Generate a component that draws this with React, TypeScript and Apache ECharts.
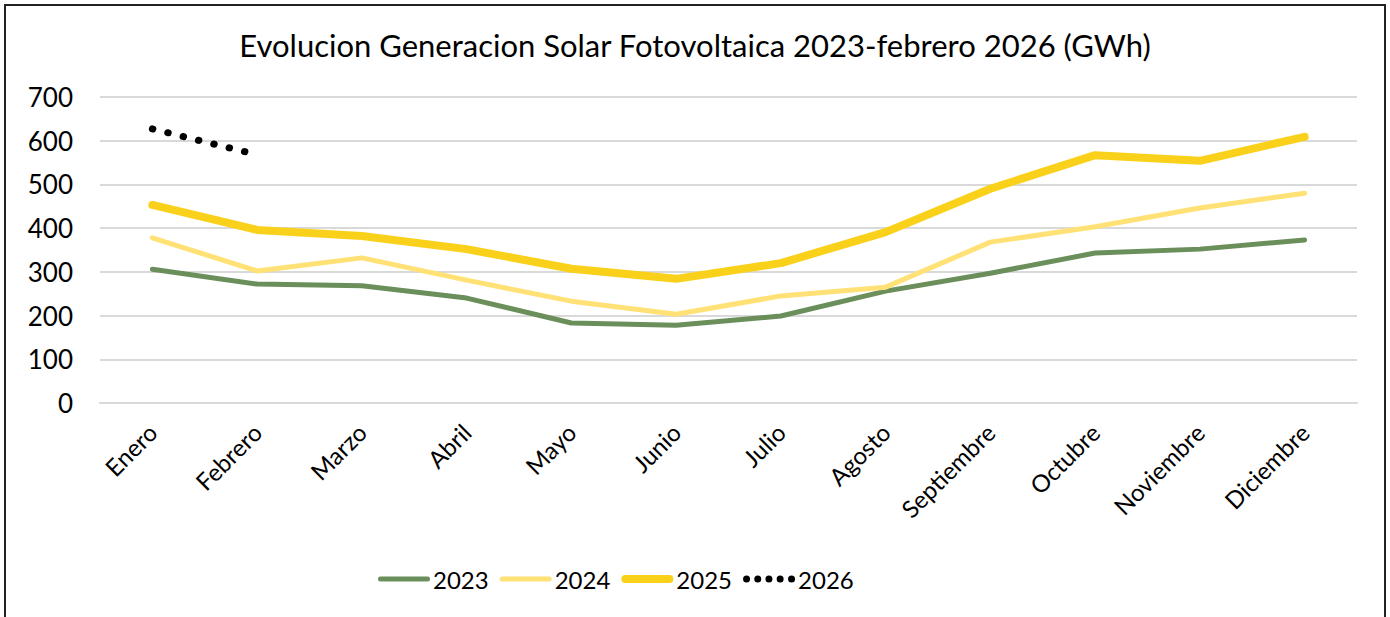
import React, { useEffect, useRef } from "react";
import * as echarts from "echarts";

const months = ["Enero", "Febrero", "Marzo", "Abril", "Mayo", "Junio", "Julio", "Agosto", "Septiembre", "Octubre", "Noviembre", "Diciembre"];
const s2023 = [306, 272, 268, 240, 183, 178, 199, 256, 297, 343, 352, 373];
const s2024 = [378, 302, 332, 281, 233, 203, 245, 265, 368, 403, 446, 480];
const s2025 = [453, 396, 382, 352, 307, 284, 320, 391, 490, 567, 554, 609];
const s2026 = [627, 568];
const title = "Evolucion Generacion Solar Fotovoltaica 2023-febrero 2026 (GWh)";

const FONT = "Lato";

const C2023 = "#6B8F5B";
const C2024 = "#FFE175";
const C2025 = "#F9D11B";

// legend icons: rounded bars / dotted row
const bar = (h: number) =>
  `path://M${h / 2},0 L${52 - h / 2},0 A${h / 2},${h / 2} 0 0,1 ${52 - h / 2},${h} L${h / 2},${h} A${h / 2},${h / 2} 0 0,1 ${h / 2},0 Z`;
const dots = () => {
  const r = 3.5;
  const cs = [3.5, 14.7, 25.9, 37.1, 48.5];
  return (
    "path://" +
    cs.map((c) => `M${c - r},${r} A${r},${r} 0 1,0 ${c + r},${r} A${r},${r} 0 1,0 ${c - r},${r} Z`).join(" ") +
    " M0,0 M52,7"
  );
};

export default function App() {
  const ref = useRef<HTMLDivElement>(null);
  useEffect(() => {
    document.body.style.margin = "0";
    const chart = echarts.init(ref.current!, null, { renderer: "svg" });
    chart.setOption({
      animation: false,
      backgroundColor: "#ffffff",
      textStyle: { fontFamily: FONT, color: "#000" },
      title: {
        text: title,
        left: "center",
        top: 24,
        textStyle: { fontFamily: FONT, fontSize: 31, fontWeight: "normal", color: "#000" },
      },
      graphic: [
        {
          type: "rect",
          shape: { x: 5, y: 5, width: 1380, height: 700 },
          style: { fill: "none", stroke: "#222", lineWidth: 2 },
          silent: true,
          z: 100,
        },
      ],
      legend: {
        top: 562,
        left: 373,
        itemWidth: 52,
        itemHeight: 8,
        itemGap: 11,
        textStyle: { fontFamily: FONT, fontSize: 24, color: "#000", padding: [0, 0, 0, -2] },
        data: [
          { name: "2023", icon: bar(5), itemStyle: { color: C2023 } },
          { name: "2024", icon: bar(5), itemStyle: { color: C2024 } },
          { name: "2025", icon: bar(8), itemStyle: { color: C2025 } },
          { name: "2026", icon: dots(), itemStyle: { color: "#000" } },
        ],
      },
      grid: { left: 100, right: 33, top: 97, bottom: 214, containLabel: false },
      xAxis: {
        type: "category",
        data: months,
        boundaryGap: true,
        axisLine: { show: true, lineStyle: { color: "#d9d9d9", width: 2 } },
        axisTick: { show: false },
        axisLabel: { rotate: 45, fontFamily: FONT, fontSize: 24, color: "#000", margin: 25, interval: 0 },
      },
      yAxis: {
        type: "value",
        min: 0,
        max: 700,
        interval: 100,
        axisLine: { show: false },
        axisTick: { show: false },
        axisLabel: { fontFamily: FONT, fontSize: 26, color: "#000", margin: 27 },
        splitLine: { lineStyle: { color: "#d9d9d9", width: 2 } },
      },
      series: [
        {
          name: "2023",
          type: "line",
          data: s2023,
          symbol: "none",
          lineStyle: { color: C2023, width: 5, cap: "round", join: "round" },
          itemStyle: { color: C2023 },
        },
        {
          name: "2024",
          type: "line",
          data: s2024,
          symbol: "none",
          lineStyle: { color: C2024, width: 5, cap: "round", join: "round" },
          itemStyle: { color: C2024 },
        },
        {
          name: "2025",
          type: "line",
          data: s2025,
          symbol: "none",
          lineStyle: { color: C2025, width: 8, cap: "round", join: "round" },
          itemStyle: { color: C2025 },
        },
        {
          name: "2026",
          type: "line",
          data: s2026,
          symbol: "none",
          lineStyle: { color: "#000", width: 7, type: [0.5, 15.3], cap: "round" },
          itemStyle: { color: "#000" },
        },
      ],
    });
    return () => chart.dispose();
  }, []);
  return <div ref={ref} style={{ width: 1390, height: 617 }} />;
}
